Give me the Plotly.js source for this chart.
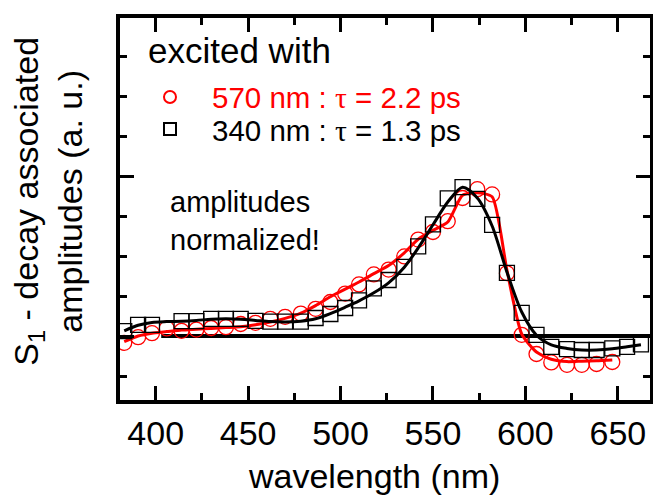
<!DOCTYPE html>
<html>
<head>
<meta charset="utf-8">
<script src="https://cdn.plot.ly/plotly-3.0.1.min.js"></script>
<style>html,body{margin:0;padding:0;background:#fff;}</style>
</head>
<body>
<div id="chart" style="width:653px;height:498px;"></div>
<script>
// wavelength grid (nm)
const wavelength = [383, 390.5, 398, 406, 414, 422, 430, 438, 446, 454, 462, 470, 478.5, 486.5, 494.5, 502.5, 510, 518, 526, 534.5, 542, 550, 558, 566, 574, 582, 590, 598, 606, 614, 622.5, 630.5, 638.5, 647, 655, 662.5];

// excited with 570 nm (red circles) and its fit
const amp570 = [-0.17, -0.03, 0.07, 0.19, 0.13, 0.16, 0.20, 0.22, 0.30, 0.33, 0.43, 0.48, 0.56, 0.68, 0.85, 1.06, 1.29, 1.54, 1.66, 1.99, 2.41, 2.60, 2.87, 3.45, 3.67, 3.54, 1.57, 0.03, -0.45, -0.66, -0.72, -0.72, -0.70, -0.65];
const fit570 = [-0.14, 0.00, 0.07, 0.11, 0.15, 0.17, 0.19, 0.21, 0.23, 0.28, 0.35, 0.44, 0.57, 0.76, 0.98, 1.17, 1.35, 1.56, 1.76, 2.08, 2.42, 2.64, 2.85, 3.52, 3.58, 3.48, 1.65, 0.05, -0.40, -0.58, -0.64, -0.63, -0.62, -0.60];

// excited with 340 nm (black squares) and its fit
const amp340 = [0.12, 0.28, 0.28, null, 0.37, 0.37, 0.43, 0.43, 0.43, 0.38, 0.36, 0.36, 0.36, 0.45, 0.55, 0.70, 0.89, 1.19, 1.40, 1.73, 2.24, 2.79, 3.44, 3.72, 3.43, 2.78, 1.58, 0.58, 0.03, -0.27, -0.33, -0.35, -0.35, -0.31, -0.27, -0.21];
const fit340 = [0.13, 0.27, 0.34, 0.36, 0.37, 0.39, 0.42, 0.43, 0.42, 0.39, 0.36, 0.35, 0.37, 0.43, 0.56, 0.72, 0.88, 1.08, 1.33, 1.72, 2.20, 2.78, 3.35, 3.72, 3.45, 2.75, 1.60, 0.60, 0.02, -0.22, -0.31, -0.35, -0.35, -0.32, -0.27, -0.22];

const xTickVals = [400, 450, 500, 550, 600, 650];
const xTickText = ['400', '450', '500', '550', '600', '650'];
const xRange = [380.7, 667.4];
const yRange = [-1.6, 7.95];
const baselineStart = 403;

const label570 = '570 nm : <span style="font-family:\'Liberation Serif\'">τ</span> = 2.2 ps';
const label340 = '340 nm : <span style="font-family:\'Liberation Serif\'">τ</span> = 1.3 ps';

const FONT = 'Liberation Sans, Arial, sans-serif';
const RED = '#ff0000';

const w570 = wavelength.slice(0, amp570.length);

const traces = [
  {x: [baselineStart, xRange[1]], y: [0, 0], mode: 'lines', line: {color: '#000', width: 4}, showlegend: false, hoverinfo: 'skip'},
  {x: w570, y: fit570, mode: 'lines', line: {color: RED, width: 3, shape: 'spline', smoothing: 0.6}, showlegend: false},
  {x: w570, y: amp570, mode: 'markers', name: label570, legend: 'legend',
   marker: {symbol: 'circle-open', size: 15, color: RED, line: {color: RED, width: 1.3}}},
  {x: wavelength, y: amp340, mode: 'markers', name: label340, legend: 'legend2',
   marker: {symbol: 'square-open', size: 15, color: '#000', line: {color: '#000', width: 1.3}}},
  {x: wavelength, y: fit340, mode: 'lines', line: {color: '#000', width: 3, shape: 'spline', smoothing: 0.8}, showlegend: false}
];

const axisCommon = {
  showline: true, linecolor: '#000', linewidth: 4, mirror: 'allticks',
  ticks: 'inside', tickcolor: '#000', tickwidth: 3, ticklen: 14,
  showgrid: false, zeroline: false, fixedrange: true
};

const layout = {
  width: 653, height: 498,
  margin: {l: 120, r: 3, t: 18, b: 98, pad: 0},
  paper_bgcolor: '#fff', plot_bgcolor: '#fff',
  font: {family: FONT, color: '#000'},
  xaxis: Object.assign({}, axisCommon, {
    range: xRange, tickmode: 'array', tickvals: xTickVals, ticktext: xTickText,
    tickfont: {family: FONT, size: 34, color: '#000'},
    minor: {dtick: 25, tick0: 0, ticks: 'inside', ticklen: 7, tickwidth: 3, tickcolor: '#000'}
  }),
  yaxis: Object.assign({}, axisCommon, {
    range: yRange, tickmode: 'linear', tick0: 0, dtick: 4, showticklabels: false,
    minor: {dtick: 1, tick0: 0, ticks: 'inside', ticklen: 7, tickwidth: 3, tickcolor: '#000'}
  }),
  legend: {x: 0.0151, y: 0.8605, xanchor: 'left', yanchor: 'top', bgcolor: 'rgba(0,0,0,0)',
    font: {family: FONT, size: 29.5, color: RED}, itemwidth: 74, itemsizing: 'constant', borderwidth: 0},
  legend2: {x: 0.0151, y: 0.7765, xanchor: 'left', yanchor: 'top', bgcolor: 'rgba(0,0,0,0)',
    font: {family: FONT, size: 29.5, color: '#000'}, itemwidth: 74, itemsizing: 'constant', borderwidth: 0},
  annotations: [
    {text: 'excited with', xref: 'paper', yref: 'paper', x: 0.049, y: 0.972, xanchor: 'left', yanchor: 'top',
     showarrow: false, font: {family: FONT, size: 35, color: '#000'}},
    {text: 'amplitudes<br>normalized!', xref: 'paper', yref: 'paper', x: 0.0906, y: 0.566, xanchor: 'left', yanchor: 'top',
     align: 'left', showarrow: false, font: {family: FONT, size: 29, color: '#000'}},
    {text: 'wavelength (nm)', xref: 'paper', yref: 'paper', x: 0.479, y: -0.145, xanchor: 'center', yanchor: 'top',
     showarrow: false, font: {family: FONT, size: 34, color: '#000'}},
    {text: 'S<sub>1</sub> - decay associated<br>amplitudes (a. u.)', xref: 'paper', yref: 'paper', x: -0.135, y: 0.52,
     xanchor: 'center', yanchor: 'middle', textangle: -90, showarrow: false, font: {family: FONT, size: 34, color: '#000'}}
  ],
  showlegend: true
};

Plotly.newPlot('chart', traces, layout, {displayModeBar: false, staticPlot: true});
</script>
</body>
</html>
